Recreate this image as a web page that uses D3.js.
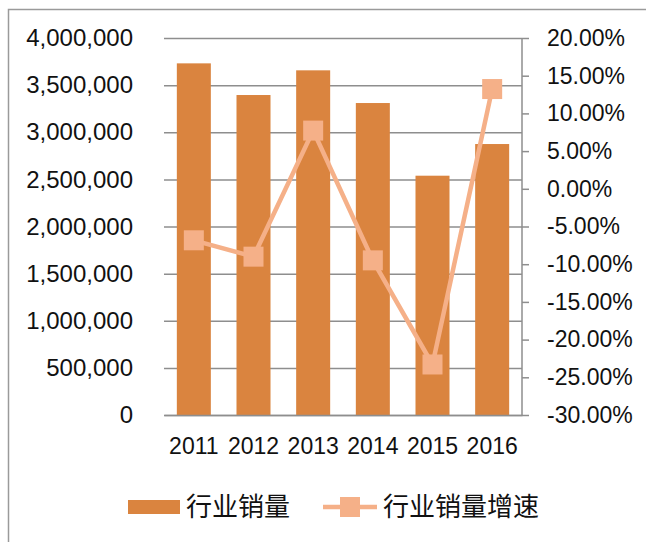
<!DOCTYPE html>
<html>
<head>
<meta charset="utf-8">
<script src="https://cdn.jsdelivr.net/npm/d3@7"></script>
<style>
  body { margin: 0; background: #fff; }
  svg text { font-family: "Liberation Sans", Arial, sans-serif; fill: #111; }
  .cjk { font-family: "Noto Sans CJK SC", sans-serif; }
</style>
</head>
<body>
<svg id="chart" width="646" height="542"></svg>
<script>
var years = ["2011", "2012", "2013", "2014", "2015", "2016"];
var sales = [3731000, 3395000, 3657000, 3310000, 2539000, 2875000];
var growth = [-0.0683, -0.0900, 0.0772, -0.0949, -0.2330, 0.1323];
var leftTicks = [0, 500000, 1000000, 1500000, 2000000, 2500000, 3000000, 3500000, 4000000];
var rightTicks = [-0.30, -0.25, -0.20, -0.15, -0.10, -0.05, 0, 0.05, 0.10, 0.15, 0.20];
var seriesNames = ["行业销量", "行业销量增速"];

var svg = d3.select("#chart");
var margin = {top: 38, right: 124, bottom: 127, left: 164},
    width = +svg.attr("width") - margin.left - margin.right,
    height = +svg.attr("height") - margin.top - margin.bottom;

var barColor = "#DA843F", lineColor = "#F5B088", gridColor = "#8E8E8E";

// outer chart border (only left and top visible in the picture)
svg.append("rect")
  .attr("x", 8.5).attr("y", 9.5)
  .attr("width", 700).attr("height", 600)
  .attr("fill", "none").attr("stroke", "#9a9a9a").attr("stroke-width", 1.5);

var g = svg.append("g").attr("transform", "translate(" + margin.left + "," + margin.top + ")");

var x = d3.scaleBand().domain(years).range([0, width]).paddingInner(0.43).paddingOuter(0.215);
var y = d3.scaleLinear().domain([0, 4000000]).range([height, 0]);
var y2 = d3.scaleLinear().domain([-0.30, 0.20]).range([height, 0]);

// gridlines + left labels
var yAxis = d3.axisLeft(y).tickValues(leftTicks).tickSize(-width).tickPadding(31)
  .tickFormat(d3.format(",d"));
var ya = g.append("g").attr("class", "axis").call(yAxis);
ya.select(".domain").remove();
ya.selectAll(".tick line").attr("stroke", gridColor).attr("stroke-width", 1.5);
ya.selectAll(".tick text").style("font-size", "24px").attr("fill", "#111");

// bars
g.append("g")
  .selectAll("rect")
  .data(years)
  .enter().append("rect")
    .attr("x", function(d) { return x(d); })
    .attr("y", function(d, i) { return y(sales[i]); })
    .attr("width", x.bandwidth())
    .attr("height", function(d, i) { return height - y(sales[i]); })
    .attr("fill", barColor);

// bottom axis
var xAxis = d3.axisBottom(x).tickSize(0).tickPadding(23);
var xa = g.append("g").attr("transform", "translate(0," + height + ")").call(xAxis);
xa.select(".domain").attr("stroke", gridColor).attr("stroke-width", 1.5);
xa.selectAll(".tick text").style("font-size", "23px").attr("fill", "#111");

// right axis
var y2Axis = d3.axisRight(y2).tickValues(rightTicks).tickSize(7).tickPadding(18)
  .tickFormat(d3.format(".2%"));
var ra = g.append("g").attr("transform", "translate(" + width + ",0)").call(y2Axis);
ra.select(".domain").attr("stroke", gridColor).attr("stroke-width", 1.5).attr("d", "M0,0V" + height);
ra.selectAll(".tick line").attr("stroke", gridColor).attr("stroke-width", 1.5);
ra.selectAll(".tick text").style("font-size", "23px").attr("fill", "#111")
  .text(function(d) { return d3.format(".2%")(d).replace("−", "-"); });

// growth line
var line = d3.line()
  .x(function(d, i) { return x(years[i]) + x.bandwidth() / 2; })
  .y(function(d) { return y2(d); });
g.append("path")
  .datum(growth)
  .attr("d", line)
  .attr("fill", "none")
  .attr("stroke", lineColor)
  .attr("stroke-width", 4.5);

g.append("g")
  .selectAll("rect")
  .data(growth)
  .enter().append("rect")
    .attr("x", function(d, i) { return x(years[i]) + x.bandwidth() / 2 - 10; })
    .attr("y", function(d) { return y2(d) - 10; })
    .attr("width", 20).attr("height", 20)
    .attr("fill", lineColor);

// legend
var lg = svg.append("g");
lg.append("rect").attr("x", 128).attr("y", 500).attr("width", 52).attr("height", 14).attr("fill", barColor);
lg.append("text").attr("class", "cjk").attr("x", 186).attr("y", 507).attr("dy", "0.35em")
  .style("font-size", "26px").text(seriesNames[0]);
lg.append("line").attr("x1", 323).attr("x2", 377).attr("y1", 507).attr("y2", 507)
  .attr("stroke", lineColor).attr("stroke-width", 4.5);
lg.append("rect").attr("x", 340).attr("y", 497).attr("width", 20).attr("height", 20).attr("fill", lineColor);
lg.append("text").attr("class", "cjk").attr("x", 383).attr("y", 507).attr("dy", "0.35em")
  .style("font-size", "26px").text(seriesNames[1]);
</script>
</body>
</html>
